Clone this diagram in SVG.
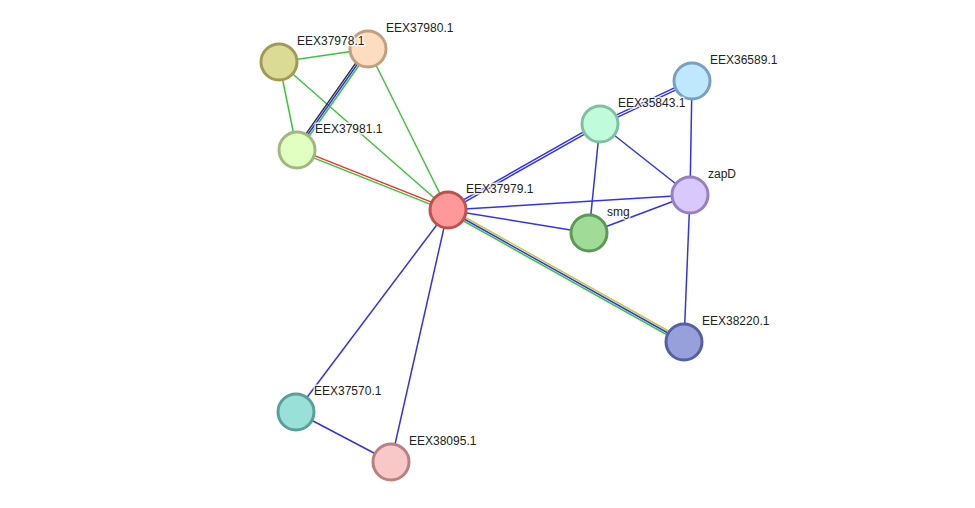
<svg xmlns="http://www.w3.org/2000/svg" width="975" height="508" viewBox="0 0 975 508">
<style>
.e{stroke-width:1.5;fill:none}
.g{stroke:#3dc43d}.b{stroke:#3333ee}.r{stroke:#ee3333}.k{stroke:#333333}.y{stroke:#c8c83a}
.n{stroke-width:3}
text{font-family:"Liberation Sans",Arial,sans-serif;font-size:12px;fill:#222;stroke:#fff;stroke-width:3;stroke-opacity:0.8;paint-order:stroke;stroke-linejoin:round}
</style>
<rect width="975" height="508" fill="#fff"/>
<g id="connectors">
<line class="e g" x1="279" y1="62" x2="368" y2="49"/>
<line class="e g" x1="279" y1="62" x2="297" y2="150"/>
<line class="e g" x1="279" y1="62" x2="448" y2="210"/>
<line class="e k" x1="366.4" y1="47.9" x2="295.4" y2="148.9"/>
<line class="e b" x1="368" y1="49" x2="297" y2="150"/>
<line class="e g" x1="369.6" y1="50.2" x2="298.6" y2="151.2"/>
<line class="e g" x1="368" y1="49" x2="448" y2="210"/>
<line class="e r" x1="297.44" y1="148.89" x2="448.44" y2="208.89"/>
<line class="e g" x1="296.56" y1="151.11" x2="447.56" y2="211.11"/>
<line class="e b" x1="448.59" y1="211.04" x2="600.59" y2="125.04"/>
<line class="e b" x1="447.41" y1="208.96" x2="599.41" y2="122.96"/>
<line class="e b" x1="600.51" y1="125.09" x2="692.51" y2="82.09"/>
<line class="e b" x1="599.49" y1="122.91" x2="691.49" y2="79.91"/>
<line class="e b" x1="448" y1="210" x2="690" y2="195"/>
<line class="e b" x1="448" y1="210" x2="589" y2="233"/>
<line class="e y" x1="448.98" y1="208.25" x2="684.98" y2="340.25"/>
<line class="e b" x1="448" y1="210" x2="684" y2="342"/>
<line class="e g" x1="447.02" y1="211.75" x2="683.02" y2="343.75"/>
<line class="e b" x1="448" y1="210" x2="296" y2="412"/>
<line class="e b" x1="448" y1="210" x2="391" y2="462"/>
<line class="e b" x1="600" y1="124" x2="589" y2="233"/>
<line class="e b" x1="600" y1="124" x2="690" y2="195"/>
<line class="e b" x1="692" y1="81" x2="690" y2="195"/>
<line class="e b" x1="589" y1="233" x2="690" y2="195"/>
<line class="e b" x1="690" y1="195" x2="684" y2="342"/>
<line class="e b" x1="296" y1="412" x2="391" y2="462"/>
</g>
<g id="EEX37980.1"><circle class="n" cx="368" cy="49" r="18" fill="#fddcc0" stroke="#c0a080"/><text x="386" y="32">EEX37980.1</text></g>
<g id="EEX37978.1"><circle class="n" cx="279" cy="62" r="18" fill="#dcdb96" stroke="#a09a58"/><text x="297" y="45">EEX37978.1</text></g>
<g id="EEX37981.1"><circle class="n" cx="297" cy="150" r="18" fill="#e0ffc0" stroke="#a0b880"/><text x="315" y="133">EEX37981.1</text></g>
<g id="EEX37979.1"><circle class="n" cx="448" cy="210" r="18" fill="#ff9898" stroke="#c05050"/><text x="466" y="193">EEX37979.1</text></g>
<g id="EEX36589.1"><circle class="n" cx="692" cy="81" r="18" fill="#c0e8fc" stroke="#78a0c0"/><text x="710" y="64">EEX36589.1</text></g>
<g id="EEX35843.1"><circle class="n" cx="600" cy="124" r="18" fill="#c0fcdc" stroke="#80c0a0"/><text x="618" y="107">EEX35843.1</text></g>
<g id="zapD"><circle class="n" cx="690" cy="195" r="18" fill="#d8c8fc" stroke="#9880c0"/><text x="708" y="178">zapD</text></g>
<g id="smg"><circle class="n" cx="589" cy="233" r="18" fill="#a0dc98" stroke="#5a9a55"/><text x="607" y="216">smg</text></g>
<g id="EEX38220.1"><circle class="n" cx="684" cy="342" r="18" fill="#98a0dc" stroke="#5560a0"/><text x="702" y="325">EEX38220.1</text></g>
<g id="EEX37570.1"><circle class="n" cx="296" cy="412" r="18" fill="#98e0d8" stroke="#58a098"/><text x="314" y="395">EEX37570.1</text></g>
<g id="EEX38095.1"><circle class="n" cx="391" cy="462" r="18" fill="#f8c8c8" stroke="#b88080"/><text x="409" y="445">EEX38095.1</text></g>
</svg>
